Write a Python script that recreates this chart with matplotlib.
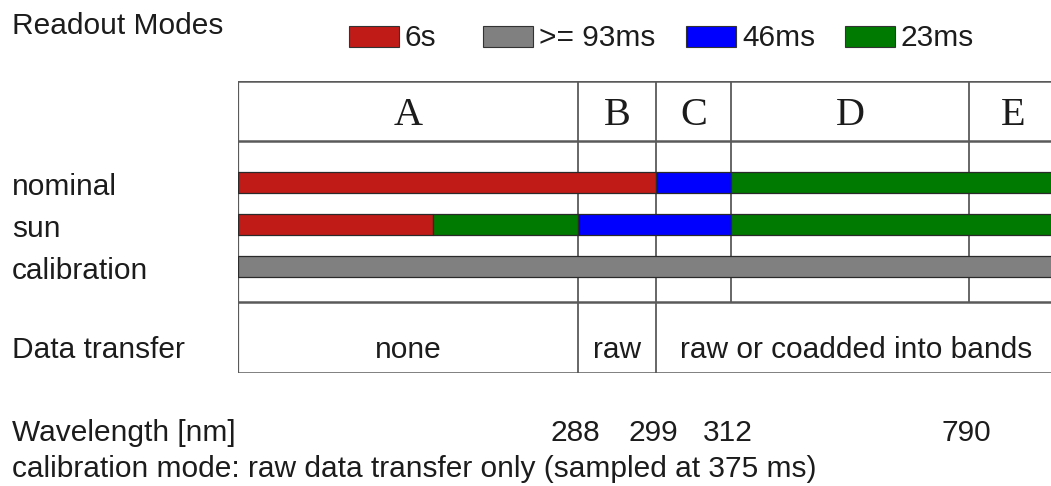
import matplotlib.pyplot as plt
from matplotlib.patches import Rectangle

# readout modes and their colours
modes = ['6s', '>= 93ms', '46ms', '23ms']
mode_colors = {'6s': '#c11b17', '>= 93ms': '#808080', '46ms': '#0000ff', '23ms': '#007a00'}

# spectral bands (widths in detector units) and wavelength limits between them
bands = ['A', 'B', 'C', 'D', 'E']
band_widths = [340, 78, 75, 238, 88]
band_limits_nm = ['288', '299', '312', '790']

# readout mode segments per measurement type: (mode, start, stop) in detector units
rows = ['nominal', 'sun', 'calibration']
nominal_segments = [('6s', 0, 418), ('46ms', 418, 493), ('23ms', 493, 819)]
sun_segments = [('6s', 0, 195), ('23ms', 195, 340), ('46ms', 340, 493), ('23ms', 493, 819)]
calibration_segments = [('>= 93ms', 0, 819)]
segments = [nominal_segments, sun_segments, calibration_segments]

# data transfer per group of bands
transfer_labels = ['none', 'raw', 'raw or coadded into bands']
transfer_spans = [(0, 1), (1, 2), (2, 5)]

W, H = 1051, 486
SANS = 'Liberation Sans'
SERIF = 'Liberation Serif'
FS = 21.5
TXT = '#1c1c1c'
LINE = '#5a5a5a'

fig = plt.figure(figsize=(W / 100, H / 100), dpi=100)
fig.patch.set_facecolor('white')

# full-figure axes in pixel units for the free-standing labels
ax = fig.add_axes([0, 0, 1, 1])
ax.set_xlim(0, W)
ax.set_ylim(H, 0)
ax.axis('off')

# table axes: x in detector units, y in pixel rows
x0, y0, y1 = 238, 81, 373
total = sum(band_widths)
tab = fig.add_axes([x0 / W, 1 - y1 / H, total / W, (y1 - y0) / H])
tab.set_xlim(0, total)
tab.set_ylim(y1 - y0, 0)
tab.axis('off')

edges = [0]
for w in band_widths:
    edges.append(edges[-1] + w)

# title and legend
ax.text(12, 34, 'Readout Modes', fontsize=FS, family=SANS, color=TXT, va='baseline')
legend_x = [349, 483, 686, 845]
for m, lx in zip(modes, legend_x):
    ax.add_patch(Rectangle((lx, 26), 50, 21, facecolor=mode_colors[m],
                           edgecolor='#333333', lw=0.8))
    ax.text(lx + 56, 46, m, fontsize=FS, family=SANS, color=TXT, va='baseline')

# grid lines of the table
header_bottom = 141 - y0
sep = 302 - y0
bottom = y1 - y0
for yy in [0, header_bottom, sep, bottom]:
    tab.axhline(yy, color=LINE, lw=1.8, zorder=1)
tab.axvline(0, color=LINE, lw=1.6, zorder=1)
for i, e in enumerate(edges[1:-1]):
    stop = bottom if i < 2 else sep
    tab.plot([e, e], [0, stop], color=LINE, lw=1.3, zorder=1)

# band letters
for b, l, r in zip(bands, edges[:-1], edges[1:]):
    tab.text((l + r) / 2, 125 - y0, b, fontsize=29, family=SERIF, color=TXT,
             ha='center', va='baseline')

# readout mode bars
bar_centers = [182.5, 224.5, 266.5]
for name, segs, yc in zip(rows, segments, bar_centers):
    for m, a, b in segs:
        tab.barh(yc - y0, b - a, left=a, height=21, color=mode_colors[m],
                 edgecolor='#2a2a2a', linewidth=0.9, zorder=3)
    ax.text(12, yc + 12, name, fontsize=FS, family=SANS, color=TXT, va='baseline')

# data transfer row
ax.text(12, 358, 'Data transfer', fontsize=FS, family=SANS, color=TXT, va='baseline')
for lab, (i, j) in zip(transfer_labels, transfer_spans):
    tab.text((edges[i] + edges[j]) / 2, 358 - y0, lab, fontsize=FS, family=SANS,
             color=TXT, ha='center', va='baseline')

# wavelength limits under the band boundaries
ax.text(12, 441, 'Wavelength [nm]', fontsize=FS, family=SANS, color=TXT, va='baseline')
for lab, e in zip(band_limits_nm, edges[1:-1]):
    ax.text(x0 + e - 3, 441, lab, fontsize=FS, family=SANS, color=TXT,
            ha='center', va='baseline')
ax.text(12, 477, 'calibration mode: raw data transfer only (sampled at 375 ms)',
        fontsize=FS, family=SANS, color=TXT, va='baseline')

fig.savefig('out.png', dpi=100)
